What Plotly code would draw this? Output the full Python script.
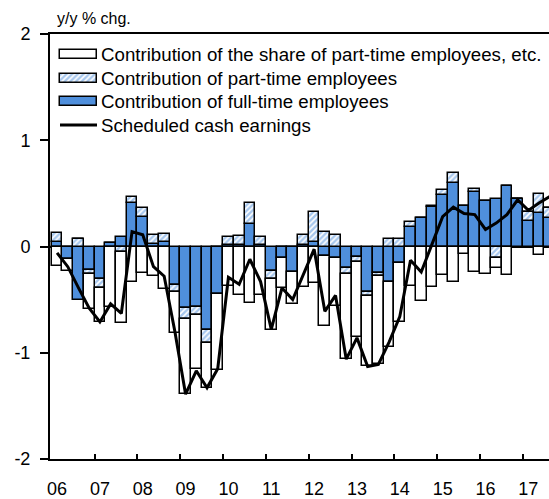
import plotly.graph_objects as go

# ---------------- data ----------------
year_labels = ['06', '07', '08', '09', '10', '11', '12', '13', '14', '15', '16', '17']
y_tick_vals = [-2, -1, 0, 1, 2]
y_tick_text = ['-2', '-1', '0', '1', '2']

full_time = [0.04, -0.12, -0.50, -0.22,
             -0.31, 0.03, 0.09, 0.405,
             0.28, 0.022, 0.038, -0.365,
             -0.58, -0.566, -0.786, -0.45,
             0.01, 0.016, 0.21, 0.013,
             -0.23, -0.11, -0.24, 0.01,
             0.044, -0.088, -0.11, -0.20,
             -0.10, -0.43, -0.245, -0.33,
             -0.155, 0.18, 0.27, 0.37,
             0.487, 0.60, 0.377, 0.51,
             0.43, 0.447, 0.566, 0.447,
             0.236, 0.32, 0.267]

part_time = [0.085, 0.0, 0.07, -0.04,
             -0.085, 0.0, -0.05, 0.06,
             0.08, 0.085, 0.075, -0.06,
             -0.10, -0.08, -0.126, 0.0,
             0.08, 0.085, 0.20, 0.08,
             -0.072, 0.0, 0.0, 0.10,
             0.28, 0.14, 0.11, -0.063,
             -0.05, -0.035, -0.03, 0.07,
             0.07, 0.053, 0.0, 0.01,
             0.047, 0.094, 0.0, 0.028,
             0.0, -0.11, 0.0, 0.0,
             0.085, 0.176, 0.094]

share_part_time = [-0.18, -0.11, 0.0, -0.33,
                   -0.32, -0.57, -0.67, -0.33,
                   -0.25, -0.28, -0.40, -0.39,
                   -0.71, -0.51, -0.42, -0.71,
                   -0.37, -0.46, -0.53, -0.46,
                   -0.484, -0.28, -0.30, -0.38,
                   -0.34, -0.66, -0.45, -0.80,
                   -0.70, -0.66, -0.83, -0.62,
                   -0.56, -0.37, -0.51, -0.38,
                   -0.27, -0.33, -0.07, -0.236,
                   -0.26, -0.094, -0.27, 0.0,
                   0.0, -0.08, 0.0]

cash_earnings = [-0.06, -0.19, -0.39, -0.58,
                 -0.71, -0.54, -0.63, 0.14,
                 0.11, -0.19, -0.28, -0.80,
                 -1.39, -1.17, -1.33, -1.15,
                 -0.29, -0.355, -0.12, -0.33,
                 -0.78, -0.39, -0.50, -0.26,
                 -0.025, -0.61, -0.46, -1.06,
                 -0.86, -1.13, -1.11, -0.90,
                 -0.66, -0.13, -0.24, 0.02,
                 0.28, 0.37, 0.31, 0.30,
                 0.16, 0.22, 0.30, 0.44,
                 0.34, 0.41, 0.47]

series_names = ['Contribution of the share of part-time employees, etc.',
                'Contribution of part-time employees',
                'Contribution of full-time employees',
                'Scheduled cash earnings']

# ---------------- styles ----------------
BLUE = '#4f8fdc'
HATCH = '#4f8fdc'
FONT = 'Liberation Sans, Arial, sans-serif'
OUTLINE = dict(color='black', width=1.5)
hatch_pattern = dict(shape='/', fgcolor=HATCH, bgcolor='white', size=4, solidity=0.6)

x = list(range(len(full_time)))
year_pos = [4 * k for k in range(len(year_labels))]
year_bounds = [4 * k - 0.5 for k in range(1, len(year_labels) + 1)]

fig = go.Figure()

fig.add_bar(x=x, y=full_time, width=1, name=series_names[2],
            marker=dict(color=BLUE, line=OUTLINE), showlegend=False)
fig.add_bar(x=x, y=part_time, width=1, name=series_names[1],
            marker=dict(color='white', pattern=hatch_pattern, line=OUTLINE), showlegend=False)
fig.add_bar(x=x, y=share_part_time, width=1, name=series_names[0],
            marker=dict(color='white', line=OUTLINE), showlegend=False)
fig.add_scatter(x=x, y=cash_earnings, mode='lines', name=series_names[3],
                line=dict(color='black', width=3), showlegend=False)

# ---------------- custom legend (overlay axes in pixel units) ----------------
L, R, T, B = 50, 549, 34, 461
rows = [55, 78.5, 102, 125.5]
sym_x0, sym_len, sym_h = 60, 37, 9

fig.add_bar(x=[sym_len], y=[rows[0]], base=[sym_x0], orientation='h', width=sym_h,
            xaxis='x2', yaxis='y2', marker=dict(color='white', line=OUTLINE),
            showlegend=False, hoverinfo='skip')
fig.add_bar(x=[sym_len], y=[rows[1]], base=[sym_x0], orientation='h', width=sym_h,
            xaxis='x2', yaxis='y2', marker=dict(color='white', pattern=hatch_pattern, line=OUTLINE),
            showlegend=False, hoverinfo='skip')
fig.add_bar(x=[sym_len], y=[rows[2]], base=[sym_x0], orientation='h', width=sym_h,
            xaxis='x2', yaxis='y2', marker=dict(color=BLUE, line=OUTLINE),
            showlegend=False, hoverinfo='skip')
fig.add_scatter(x=[sym_x0, sym_x0 + sym_len], y=[rows[3], rows[3]], mode='lines',
                xaxis='x2', yaxis='y2', line=dict(color='black', width=3),
                showlegend=False, hoverinfo='skip')

annotations = []
for r, name in zip(rows, series_names):
    annotations.append(dict(x=sym_x0 + sym_len + 2, y=r, xref='x2', yref='y2',
                            text=name, showarrow=False, xanchor='left', yanchor='middle',
                            font=dict(family=FONT, size=18.7, color='black')))
annotations.append(dict(x=(55 - L) / (R - L), y=1 + (34 - 18) / (B - T), xref='paper', yref='paper',
                        text='y/y % chg.', showarrow=False, xanchor='left', yanchor='middle',
                        font=dict(family=FONT, size=16, color='black')))

fig.update_layout(
    width=549, height=499,
    margin=dict(l=L, r=549 - R, t=T, b=499 - B),
    paper_bgcolor='white', plot_bgcolor='white',
    barmode='relative', bargap=0,
    font=dict(family=FONT, size=18, color='black'),
    annotations=annotations,
    xaxis=dict(range=[-0.66, 45.93], tickmode='array', tickvals=year_pos, ticktext=year_labels,
               ticks='', showline=True, linecolor='black', linewidth=2, mirror=True,
               showgrid=False, zeroline=False, ticklabelstandoff=12,
               tickfont=dict(family=FONT, size=18, color='black'),
               minor=dict(tickmode='array', tickvals=year_bounds, ticks='inside', ticklen=5,
                          tickwidth=1.5, tickcolor='black', showgrid=False)),
    yaxis=dict(range=[-2, 2], tickmode='array', tickvals=y_tick_vals, ticktext=y_tick_text,
               ticks='outside', ticklen=8, tickwidth=1.5, tickcolor='black',
               showline=True, linecolor='black', linewidth=2, showgrid=False,
               zeroline=True, zerolinecolor='black', zerolinewidth=2,
               ticklabelstandoff=6,
               tickfont=dict(family=FONT, size=18, color='black')),
    xaxis2=dict(range=[L, R], overlaying='x', anchor='y2', visible=False, fixedrange=True),
    yaxis2=dict(range=[B, T], overlaying='y', anchor='x2', visible=False, fixedrange=True),
)

fig.write_html('out.html', config={'displayModeBar': False},
               post_script="document.body.style.margin='0px';document.body.style.overflow='hidden';")
